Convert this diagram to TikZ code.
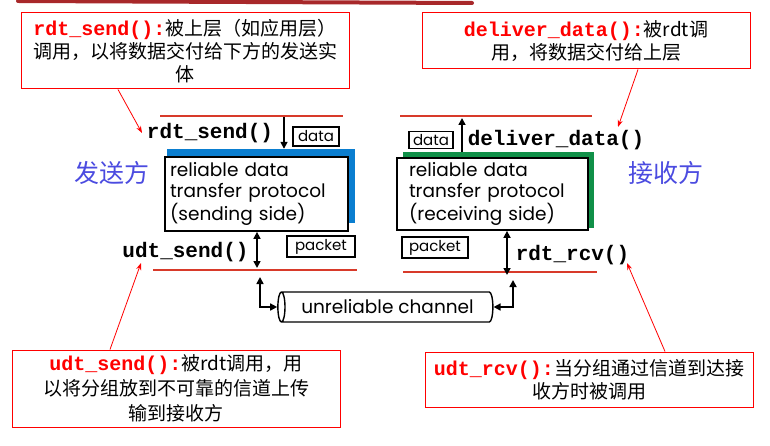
\documentclass[tikz,border=0pt]{standalone}
\usepackage{fontspec}
\setmainfont{Noto Sans CJK SC}
\newfontfamily\codefont{Liberation Mono}
\newfontfamily\boxfont{Poppins}
\usetikzlibrary{shapes.geometric,arrows.meta}
\definecolor{linered}{HTML}{D83A2A}
\definecolor{barred}{HTML}{A8282A}
\definecolor{sideblue}{HTML}{4B4BE0}
\definecolor{shblue}{HTML}{0A7ED0}
\definecolor{shgreen}{HTML}{109048}
\newcommand\fname[1]{\textcolor{red}{\codefont\bfseries\fontsize{20}{23}\selectfont #1}}

\begin{document}
\begin{tikzpicture}[x=1pt,y=-1pt,
  note/.style={draw=red, line width=1pt, align=center, inner sep=0pt, font=\fontsize{19}{23}\selectfont},
  code/.style={font=\codefont\bfseries\fontsize{21}{21}\selectfont, inner sep=0pt},
  tag/.style={draw, line width=1.3pt, inner sep=0pt, font=\boxfont\fontsize{15}{15}\selectfont},
  proto/.style={draw, line width=1.8pt, fill=white, align=left, inner ysep=0pt, font=\boxfont\fontsize{18.5}{21.5}\selectfont},
  wire/.style={linered, line width=2.6pt},
  flow/.style={line width=1.6pt, -{Triangle[length=7pt,width=7pt]}},
  dflow/.style={line width=1.6pt, {Triangle[length=7pt,width=7pt]}-{Triangle[length=7pt,width=7pt]}},
  hint/.style={red, line width=0.8pt, -{Stealth[length=7pt,width=5pt]}},
  side/.style={sideblue, font=\fontsize{25}{25}\selectfont}]
  \useasboundingbox (0,0) rectangle (770,446);
  \draw[barred, line width=4pt, line cap=round] (18,1) -- (472,3);
  \foreach \xa/\xb/\yy in {160/343/116, 153/357/270, 400/592/116, 403/597/272}
    \draw[wire] (\xa,\yy) -- (\xb,\yy);

  \node[note, minimum width=328pt, minimum height=76pt] (sendnote) at (185,51)
    {\fname{rdt\_send():}被上层（如应用层）\\调用，以将数据交付给下方的发送实\\体};
  \node[note, minimum width=328pt, minimum height=56pt] (delnote) at (586,41)
    {\fname{deliver\_data():}被rdt调\\用，将数据交付给上层};
  \node[note, minimum width=328pt, minimum height=77pt, font=\fontsize{19}{25}\selectfont] (udtnote) at (176,388.5)
    {\fname{udt\_send():}被rdt调用，用\\以将分组放到不可靠的信道上传\\输到接收方};
  \node[note, minimum width=328pt, minimum height=55pt] (rcvnote) at (589,379.5)
    {\fname{udt\_rcv():}当分组通过信道到达接\\收方时被调用};

  \node[side] (sender) at (112,173) {发送方};
  \node[side] (receiver) at (666,173) {接收方};

  \node[fill=shblue, minimum width=188pt, minimum height=74pt, inner sep=0pt] (sendsh) at (261,186) {};
  \node[proto, minimum width=183pt, minimum height=74pt, text width=173pt, inner xsep=5pt] (sendbox) at (256.5,194)
    {reliable data\\transfer protocol\\(sending side)};
  \node[fill=shgreen, minimum width=191pt, minimum height=76pt, inner sep=0pt] (rcvsh) at (498.5,190) {};
  \node[proto, minimum width=191pt, minimum height=72pt, text width=167pt, inner xsep=12pt] (rcvbox) at (492.5,194)
    {reliable data\\transfer protocol\\(receiving side)};

  \node[code] (rdtsend) at (210,133) {rdt\_send()};
  \node[code] (udtsend) at (185.5,252) {udt\_send()};
  \node[code] (deldata) at (556,140) {deliver\_data()};
  \node[code] (rdtrcv) at (572.5,255) {rdt\_rcv()};

  \node[tag, minimum width=46pt, minimum height=19pt] (sdata) at (316,136.5) {data};
  \node[tag, minimum width=68pt, minimum height=21pt] (spacket) at (321,246.5) {packet};
  \node[tag, minimum width=44pt, minimum height=17pt] (rdata) at (431,140) {data};
  \node[tag, minimum width=66pt, minimum height=21pt] (rpacket) at (435,247.5) {packet};

  \node[cylinder, draw, line width=1.4pt, shape border rotate=180, aspect=0.5, minimum width=30pt, minimum height=215pt,
    inner sep=0pt, font=\boxfont\fontsize{18.5}{18}\selectfont] (chan) at (387.5,307) {unreliable channel};

  \coordinate (sendtop) at (284,117);
  \coordinate (sendlow) at (257,268);
  \coordinate (rcvtop) at (462,118);
  \coordinate (rcvlow) at (507,275);
  \coordinate (chl) at (260,277);
  \coordinate (chr) at (513,280);
  \draw[flow] (sendtop) -- (sendsh.north -| sendtop);
  \draw[dflow] (sendbox.south -| sendlow) -- (sendlow);
  \draw[flow] (rcvsh.north -| rcvtop) -- (rcvtop);
  \draw[dflow] (rcvbox.south -| rcvlow) -- (rcvlow);
  \draw[dflow] (chl) |- (chan.west);
  \draw[dflow] (chr) |- (chan.east);

  \coordinate (tipa) at (142,133);
  \coordinate (tipb) at (618,127);
  \coordinate (tipc) at (141,263);
  \coordinate (tipd) at (627,263);
  \draw[hint] ([xshift=-67pt]sendnote.south) -- (tipa);
  \draw[hint] ([xshift=52pt]delnote.south) -- (tipb);
  \draw[hint] ([xshift=-66pt]udtnote.north) -- (tipc);
  \draw[hint] ([xshift=76pt]rcvnote.north) -- (tipd);
\end{tikzpicture}
\end{document}
